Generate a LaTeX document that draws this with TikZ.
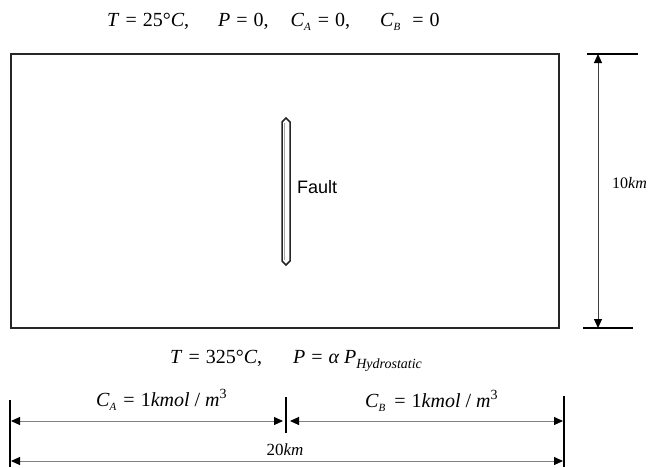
\documentclass[tikz,border=0pt]{standalone}
\usepackage{fontspec}
\setmainfont{Liberation Serif}
\newfontfamily\arialfont{Liberation Sans}
\usetikzlibrary{arrows.meta}
\newcommand{\sbs}[1]{\raisebox{-0.45ex}{\fontsize{11}{11}\selectfont\textit{#1}\hspace{1pt}}}
\newcommand{\eqs}{\hspace{6pt}=\hspace{6pt}}
\begin{document}
\begin{tikzpicture}[x=1pt,y=-1pt,
  box/.style={draw=black!85,line width=1.6pt},
  dimline/.style={draw=black!50,line width=1pt},
  tickline/.style={draw=black,line width=1.4pt},
  dimarrow/.style={dimline,{Triangle[length=9pt,width=8pt,color=black]}-{Triangle[length=9pt,width=8pt,color=black]}},
  lbl/.style={inner sep=0pt,anchor=base west,font=\fontsize{20}{22}\selectfont},
  small/.style={inner sep=0pt,anchor=base,font=\fontsize{17}{19}\selectfont}]
\useasboundingbox (0,0) rectangle (653,467);
% domain
\coordinate (tl) at (11,54);
\coordinate (br) at (559,328);
\draw[box] (tl) rectangle (br);
% fault
\draw[draw=black!85,line width=1.5pt,fill=white]
  (282,122) -- (286,118) -- (290,122) -- (290,261) -- (286,265) -- (282,261) -- cycle;
\draw[draw=black!35,line width=0.7pt] (284.6,123) -- (284.6,260);
\node[inner sep=0pt,anchor=west,font=\arialfont\fontsize{18}{20}\selectfont] (fault) at (297,187) {Fault};
% top / bottom boundary conditions
\node[lbl] (top) at (107,26) {\textit{T}\eqs25°\textit{C},\hspace{29pt}\textit{P}\eqs0,\hspace{22pt}\textit{C}\sbs{A}\eqs0,\hspace{30pt}\textit{C}\sbs{B}\hspace{5pt}\eqs0};
\node[lbl] (bot) at (170,363) {\textit{T}\eqs325°\textit{C},\hspace{31pt}\textit{P}\eqs\textit{α\hspace{5pt}P}\raisebox{-0.6ex}{\fontsize{14}{14}\selectfont\textit{Hydrostatic}}};
% height dimension
\coordinate (ht1) at (587,54);  \coordinate (ht2) at (638,54);
\coordinate (hb1) at (583,328); \coordinate (hb2) at (633,328);
\coordinate (ha) at (598,54);   \coordinate (hb) at (598,328);
\draw[tickline,line width=1.2pt] (ht1) -- (ht2);
\draw[tickline,line width=1.2pt] (hb1) -- (hb2);
\draw[dimarrow,draw=black!75] (ha) -- (hb);
\node[inner sep=0pt,anchor=base west,font=\fontsize{16}{18}\selectfont] (h) at (612,188) {10\textit{km}};
% width dimensions
\coordinate (l1) at (10,400);  \coordinate (l2) at (10,467);
\coordinate (m1) at (286,397); \coordinate (m2) at (286,433);
\coordinate (r1) at (564,396); \coordinate (r2) at (564,467);
\draw[tickline] (l1) -- (l2);
\draw[tickline] (m1) -- (m2);
\draw[tickline] (r1) -- (r2);
\coordinate (aL) at (11,421);  \coordinate (aM1) at (283,421);
\coordinate (aM2) at (290,421); \coordinate (aR) at (563,421);
\coordinate (bL) at (11,461);  \coordinate (bR) at (563,461);
\draw[dimarrow] (aL) -- (aM1);
\draw[dimarrow] (aM2) -- (aR);
\draw[dimarrow] (bL) -- (bR);
\node[lbl] (ca) at (96,406) {\textit{C}\sbs{A}\eqs1\textit{kmol} / \textit{m}\textsuperscript{3}};
\node[lbl] (cb) at (365,407) {\textit{C}\sbs{B}\hspace{2pt}\eqs1\textit{kmol} / \textit{m}\textsuperscript{3}};
\node[small] (w) at (285,455) {20\textit{km}};
\end{tikzpicture}
\end{document}
